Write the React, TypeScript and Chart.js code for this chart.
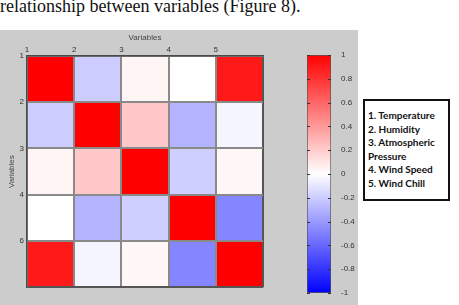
import React, { useEffect, useRef } from "react";
import { Chart, registerables } from "chart.js";

Chart.register(...registerables);

// Correlation matrix of the five weather variables (row = variable, column = variable)
const xTickLabels = ["1", "2", "3", "4", "5"];
const yTickLabels = ["1", "2", "3", "4", "6"];
const rowTemperature = [1.0, -0.2, 0.04, 0.0, 0.9];
const rowHumidity = [-0.2, 1.0, 0.22, -0.3, -0.04];
const rowPressure = [0.04, 0.22, 1.0, -0.19, 0.03];
const rowWindSpeed = [0.0, -0.3, -0.19, 1.0, -0.48];
const rowWindChill = [0.9, -0.04, 0.03, -0.48, 1.0];
const correlation = [rowTemperature, rowHumidity, rowPressure, rowWindSpeed, rowWindChill];

// Colour bar range and key entries
const colorbarRange = [-1, 1];
const colorbarStep = 0.2;
const legendLines = [
  "1. Temperature",
  "2. Humidity",
  "3. Atmospheric",
  "Pressure",
  "4. Wind Speed",
  "5. Wind Chill",
];
const captionText = "relationship between variables (Figure 8).";

// blue (-1) -> white (0) -> red (+1)
function colorFor(v: number): string {
  const c = Math.max(-1, Math.min(1, v));
  if (c >= 0) {
    const g = Math.round(255 * (1 - c));
    return `rgb(255,${g},${g})`;
  }
  const r = Math.round(255 * (1 + c));
  return `rgb(${r},${r},255)`;
}

const tickFont = { family: "'Liberation Sans', Arial, sans-serif", size: 8 };

function Heatmap() {
  const ref = useRef<HTMLCanvasElement | null>(null);
  useEffect(() => {
    if (!ref.current) return;
    const n = correlation.length;
    const datasets = correlation.map((row, i) => ({
      data: row.map((_, j) => ({ x: j + 0.5, y: [i, i + 1] })),
      backgroundColor: row.map(colorFor),
      borderWidth: 0,
      grouped: false,
      barPercentage: 1,
      categoryPercentage: 1,
    }));
    const frameColor = (ctx: any) =>
      ctx.tick && ctx.tick.value === n ? "#555555" : "#8a8a8a";
    const chart = new Chart(ref.current, {
      type: "bar",
      data: { datasets: datasets as any },
      options: {
        animation: false,
        responsive: false,
        devicePixelRatio: 1,
        events: [],
        layout: { padding: { left: 0, top: 0, right: 2, bottom: 2 } },
        plugins: { legend: { display: false }, tooltip: { enabled: false } },
        scales: {
          x: {
            type: "linear",
            position: "top",
            min: 0,
            max: n,
            offset: false,
            afterFit: (s: any) => {
              s.height = 26;
            },
            ticks: {
              stepSize: 1,
              padding: 1,
              maxRotation: 0,
              color: "#333333",
              font: tickFont,
              callback: (v: any) => xTickLabels[v] ?? "",
            },
            grid: {
              offset: false,
              z: 1,
              drawTicks: false,
              lineWidth: 2,
              color: frameColor,
            },
            border: { display: true, color: "#4a4a4a", width: 1.5, z: 2 },
            title: {
              display: true,
              text: "Variables",
              color: "#444444",
              font: tickFont,
              padding: { top: 3, bottom: 0 },
            },
          },
          y: {
            type: "linear",
            min: 0,
            max: n,
            reverse: true,
            afterFit: (s: any) => {
              s.width = 27;
            },
            ticks: {
              stepSize: 1,
              padding: 3,
              color: "#333333",
              font: tickFont,
              callback: (v: any) => yTickLabels[v] ?? "",
            },
            grid: {
              z: 1,
              drawTicks: false,
              lineWidth: 2,
              color: frameColor,
            },
            border: { display: true, color: "#4a4a4a", width: 1.5, z: 2 },
            title: {
              display: true,
              text: "Variables",
              color: "#444444",
              font: tickFont,
              padding: { top: 7, bottom: 0 },
            },
          },
        },
      } as any,
    });
    return () => chart.destroy();
  }, []);
  return (
    <canvas
      ref={ref}
      width={265}
      height={265}
      style={{ position: "absolute", left: 0, top: 30, width: 265, height: 265 }}
    />
  );
}

function Colorbar() {
  const ref = useRef<HTMLCanvasElement | null>(null);
  useEffect(() => {
    if (!ref.current) return;
    const innerTicks = {
      id: "innerTicks",
      afterDatasetsDraw(chart: any) {
        const { ctx, chartArea, scales } = chart;
        ctx.save();
        ctx.strokeStyle = "#333333";
        ctx.lineWidth = 1;
        for (const t of scales.y.ticks) {
          const y = Math.round(scales.y.getPixelForValue(t.value)) + 0.5;
          ctx.beginPath();
          ctx.moveTo(chartArea.left, y);
          ctx.lineTo(chartArea.left + 3, y);
          ctx.moveTo(chartArea.right - 3, y);
          ctx.lineTo(chartArea.right, y);
          ctx.stroke();
        }
        ctx.restore();
      },
    };
    const chart = new Chart(ref.current, {
      type: "bar",
      data: {
        labels: ["scale"],
        datasets: [
          {
            data: [colorbarRange as any],
            barPercentage: 1,
            categoryPercentage: 1,
            borderWidth: 1,
            borderColor: "#555555",
            borderSkipped: false,
            backgroundColor: (c: any) => {
              const chart = c.chart;
              const ys = chart.scales && chart.scales.y;
              if (!chart.chartArea || !ys) return "#ffffff";
              const lo = ys.getPixelForValue(colorbarRange[0]);
              const hi = ys.getPixelForValue(colorbarRange[1]);
              const g = chart.ctx.createLinearGradient(0, lo, 0, hi);
              g.addColorStop(0, colorFor(colorbarRange[0]));
              g.addColorStop(0.5, colorFor(0));
              g.addColorStop(1, colorFor(colorbarRange[1]));
              return g;
            },
          },
        ],
      },
      options: {
        animation: false,
        responsive: false,
        devicePixelRatio: 1,
        events: [],
        layout: { padding: { left: 17, top: 25, right: 0, bottom: 9 } },
        plugins: { legend: { display: false }, tooltip: { enabled: false } },
        scales: {
          x: { display: false },
          y: {
            position: "right",
            min: colorbarRange[0],
            max: colorbarRange[1],
            afterFit: (s: any) => {
              s.width = 27;
            },
            ticks: {
              stepSize: colorbarStep,
              padding: 2,
              color: "#333333",
              font: tickFont,
              callback: (v: any) => String(Math.round(Number(v) * 10) / 10),
            },
            grid: { display: false },
            border: { display: false },
          },
        },
      } as any,
      plugins: [innerTicks],
    });
    return () => chart.destroy();
  }, []);
  return (
    <canvas
      ref={ref}
      width={68}
      height={272}
      style={{ position: "absolute", left: 290, top: 30, width: 68, height: 272 }}
    />
  );
}

export default function App() {
  return (
    <div
      style={{
        position: "absolute",
        left: 0,
        top: 0,
        width: 459,
        height: 305,
        overflow: "hidden",
        background: "#ffffff",
      }}
    >
      <div
        style={{
          position: "absolute",
          left: 0,
          top: -4,
          whiteSpace: "nowrap",
          fontFamily: "'Liberation Serif', 'Times New Roman', serif",
          fontSize: 18,
          color: "#111111",
        }}
      >
        {captionText}
      </div>
      <div
        style={{
          position: "absolute",
          left: 0,
          top: 30,
          width: 358,
          height: 275,
          background: "#cccccc",
        }}
      />
      <Heatmap />
      <Colorbar />
      <div
        style={{
          position: "absolute",
          left: 363,
          top: 99,
          width: 83,
          height: 98,
          border: "2px solid #111111",
          background: "#ffffff",
          boxSizing: "content-box",
        }}
      >
        <div
          style={{
            position: "absolute",
            left: 3,
            top: 8,
            fontFamily: "Lato, 'Open Sans', sans-serif",
            fontWeight: 700,
            fontSize: 10,
            lineHeight: "13.5px",
            color: "#111111",
            whiteSpace: "nowrap",
          }}
        >
          {legendLines.map((l) => (
            <div key={l}>{l}</div>
          ))}
        </div>
      </div>
    </div>
  );
}
